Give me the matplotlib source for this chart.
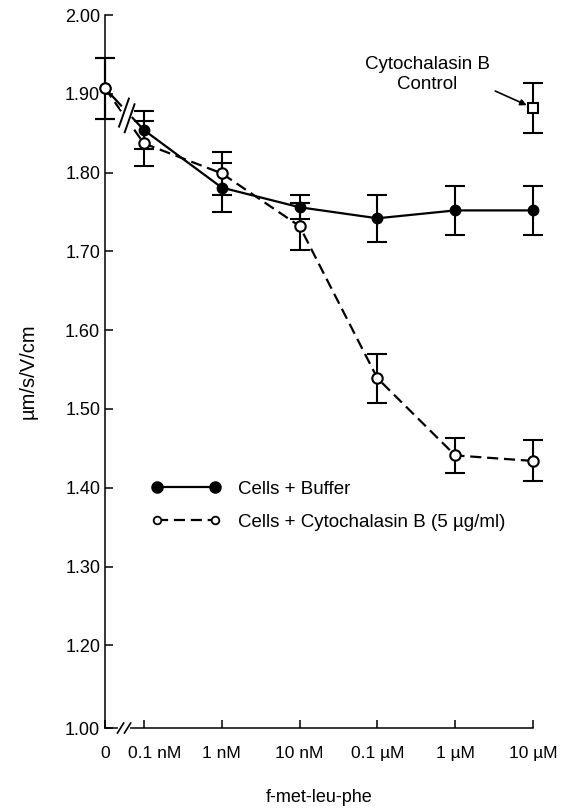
import matplotlib.pyplot as plt
import matplotlib.transforms as mtransforms
from matplotlib.lines import Line2D
import numpy as np

plt.rcParams['font.family'] = ['Liberation Sans', 'DejaVu Sans']
plt.rcParams['font.size'] = 13.5

# f-met-leu-phe concentration, placed at log10(M); the "0" sits left of the axis break
tick_labels = ['0', '0.1 nM', '1 nM', '10 nM', '0.1 µM', '1 µM', '10 µM']
x_pos = [-10.5, -10, -9, -8, -7, -6, -5]

buffer_mean = [1.907, 1.854, 1.781, 1.756, 1.742, 1.752, 1.752]
buffer_err = [0.039, 0.024, 0.031, 0.015, 0.030, 0.031, 0.031]

cyto_mean = [1.907, 1.837, 1.799, 1.732, 1.539, 1.441, 1.434]
cyto_err = [0.039, 0.029, 0.027, 0.030, 0.031, 0.022, 0.026]

control_x = -5
control_mean = 1.882
control_err = 0.032

y_ticks = [1.2, 1.3, 1.4, 1.5, 1.6, 1.7, 1.8, 1.9, 2.0]
y_floor = 1.095  # axis is cut: bottom of the axis carries the "1.00" label


def no_clip(container):
    for art in container.get_children():
        art.set_clip_on(False)


fig = plt.figure(figsize=(5.71, 8.08), dpi=100)
ax = fig.add_axes([0.1839, 0.0990, 0.7496, 0.8824])
ax.set_xlim(x_pos[0], x_pos[-1])
ax.set_ylim(y_floor, 2.0)

eb_style = dict(color='black', lw=1.6, elinewidth=1.5, capsize=7, capthick=1.5, zorder=3)
eb1 = ax.errorbar(x_pos, buffer_mean, yerr=buffer_err, marker='o', ms=7.5,
                  mfc='black', mec='black', **eb_style)
eb2 = ax.errorbar(x_pos, cyto_mean, yerr=cyto_err, marker='o', ms=7.5,
                  mfc='white', mec='black', mew=1.5, ls=(0, (5, 2.6)), **eb_style)
eb3 = ax.errorbar([control_x], [control_mean], yerr=[control_err], marker='s', ms=7,
                  mfc='white', mec='black', mew=1.5, ls='none', **eb_style)
for c in (eb1, eb2, eb3):
    no_clip(c)

# break marks on the data lines between "0" and 0.1 nM
fig.canvas.draw()
xm = x_pos[0] + 0.56 * (x_pos[1] - x_pos[0])
ym = 0.5 * (np.interp(xm, x_pos[:2], buffer_mean[:2]) + np.interp(xm, x_pos[:2], cyto_mean[:2]))
c = ax.transData.transform((xm, ym))
inv = ax.transData.inverted()
along = np.array([1.0, -1.0]) / np.sqrt(2)
perp = np.array([0.35, 1.0])
for s in (-1, 1):
    cc = c + s * 4 * along
    p1, p2 = inv.transform([cc - 14 * perp, cc + 14 * perp])
    ax.plot([p1[0], p2[0]], [p1[1], p2[1]], color='black', lw=1.4, zorder=5, clip_on=False)
for mean in (buffer_mean, cyto_mean):
    gx = np.linspace(xm - 0.04, xm + 0.04, 5)
    ax.plot(gx, np.interp(gx, x_pos[:2], mean[:2]), color='white', lw=4, zorder=4)

# break mark on the x axis
xt = ax.get_xaxis_transform()
ax.plot([x_pos[0] + 0.19, x_pos[0] + 0.29], [0, 0], color='white', lw=3,
        transform=xt, clip_on=False, zorder=5)
for xb in (x_pos[0] + 0.20, x_pos[0] + 0.29):
    ax.plot([xb - 0.04, xb + 0.04], [-0.007, 0.007], color='black', lw=1.2,
            transform=xt, clip_on=False, zorder=6)

ax.annotate('Cytochalasin B\nControl', xy=(control_x, control_mean),
            xytext=(-76, 24), textcoords='offset points', ha='center', va='center',
            linespacing=1.25,
            arrowprops=dict(arrowstyle='-|>', color='black', lw=1.2,
                            mutation_scale=9, shrinkA=2, shrinkB=5,
                            relpos=(0.95, 0.2)))

handles = [Line2D([], [], color='black', lw=1.6, marker='o', ms=8, mfc='black'),
           Line2D([], [], color='black', lw=1.6, ls=(0, (5, 2.6)), marker='o', ms=5.5,
                  mfc='white', mew=1.3)]
ax.legend(handles, ['Cells + Buffer', 'Cells + Cytochalasin B (5 µg/ml)'],
          loc='upper left', bbox_to_anchor=(0.108, 0.347), frameon=False,
          numpoints=2, handlelength=3.7, handletextpad=0.95, labelspacing=0.85,
          borderpad=0, borderaxespad=0)

ax.set_xticks(x_pos)
ax.set_xticklabels(tick_labels, fontsize=12.5)
ax.set_yticks([y_floor] + y_ticks)
ax.set_yticklabels(['1.00'] + ['%.2f' % v for v in y_ticks], fontsize=13)
ax.tick_params(axis='both', direction='in', length=6, width=1.1)
ax.tick_params(axis='x', pad=13)
ax.tick_params(axis='y', pad=3.5)

# the first concentration label sits a little right of its tick, as printed
lab = ax.get_xticklabels()[1]
lab.set_transform(lab.get_transform() + mtransforms.ScaledTranslation(8 / 72, 0, fig.dpi_scale_trans))

ax.spines['top'].set_visible(False)
ax.spines['right'].set_visible(False)
ax.spines['left'].set_linewidth(1.1)
ax.spines['bottom'].set_linewidth(1.1)

ax.set_ylabel('µm/s/V/cm', fontsize=14.5)
ax.yaxis.set_label_coords(-0.157, 0.5)
ax.set_xlabel('f-met-leu-phe', fontsize=13)
ax.xaxis.set_label_coords(0.5, -0.086)

fig.savefig('out.png', dpi=100)
